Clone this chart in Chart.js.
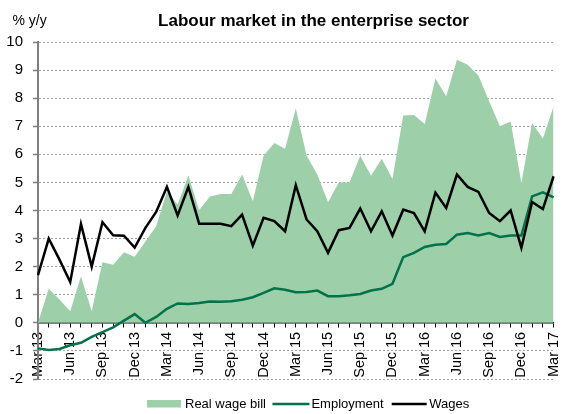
<!DOCTYPE html>
<html>
<head>
<meta charset="utf-8">
<script src="https://cdn.jsdelivr.net/npm/chart.js@4"></script>
<style>
  html, body { margin: 0; padding: 0; background: #ffffff; }
  #c { display: block; }
</style>
</head>
<body>
<canvas id="c" width="576" height="414"></canvas>
<script>
const months = [
  "Mar 13","Apr 13","May 13","Jun 13","Jul 13","Aug 13","Sep 13","Oct 13","Nov 13","Dec 13",
  "Jan 14","Feb 14","Mar 14","Apr 14","May 14","Jun 14","Jul 14","Aug 14","Sep 14","Oct 14","Nov 14","Dec 14",
  "Jan 15","Feb 15","Mar 15","Apr 15","May 15","Jun 15","Jul 15","Aug 15","Sep 15","Oct 15","Nov 15","Dec 15",
  "Jan 16","Feb 16","Mar 16","Apr 16","May 16","Jun 16","Jul 16","Aug 16","Sep 16","Oct 16","Nov 16","Dec 16",
  "Jan 17","Feb 17","Mar 17"
];
const shownTickLabels = [
  "Mar 13","Jun 13","Sep 13","Dec 13","Mar 14","Jun 14","Sep 14","Dec 14",
  "Mar 15","Jun 15","Sep 15","Dec 15","Mar 16","Jun 16","Sep 16","Dec 16","Mar 17"
];
const realWageBill = [
  0.0,1.21,0.83,0.41,1.66,0.41,2.16,2.07,2.51,2.35,2.9,3.44,4.68,4.21,5.25,4.01,4.5,4.59,4.59,5.28,4.33,5.95,
  6.4,6.2,7.63,5.96,5.28,4.29,5.0,5.0,5.95,5.24,5.84,5.12,7.38,7.4,7.08,8.7,8.07,9.37,9.19,8.81,7.89,7.0,7.17,
  4.98,7.12,6.56,7.71
];
const employment = [
  -0.91,-0.97,-0.93,-0.8,-0.71,-0.5,-0.33,-0.16,0.08,0.31,0.0,0.21,0.5,0.69,0.67,0.71,0.76,0.75,0.77,0.82,0.91,
  1.07,1.23,1.18,1.09,1.1,1.15,0.95,0.95,0.98,1.03,1.15,1.21,1.39,2.34,2.49,2.7,2.78,2.81,3.14,3.2,3.11,3.2,
  3.06,3.11,3.11,4.5,4.65,4.47
];
const wages = [
  1.7,3.0,2.25,1.45,3.52,2.0,3.58,3.12,3.1,2.68,3.38,3.95,4.84,3.82,4.84,3.53,3.53,3.53,3.44,3.85,2.75,3.74,
  3.62,3.26,4.9,3.68,3.26,2.49,3.3,3.38,4.07,3.26,3.97,3.11,4.03,3.91,3.26,4.64,4.09,5.28,4.84,4.66,3.91,3.62,
  4.0,2.67,4.3,4.05,5.22
];
const seriesNames = ["Real wage bill", "Employment", "Wages"];
const titleText = "Labour market in the enterprise sector";
const unitText = "% y/y";

const AREA_COLOR = "#9dcfa9";
const EMP_COLOR = "#00734b";
const WAGE_COLOR = "#000000";
const FONT = "'Liberation Sans', Arial, sans-serif";

const decorPlugin = {
  id: "decor",
  afterDraw(chart) {
    const ctx = chart.ctx;
    ctx.save();
    // title
    ctx.fillStyle = "#000";
    ctx.font = "bold 17px " + FONT;
    ctx.textAlign = "center";
    ctx.textBaseline = "alphabetic";
    ctx.fillText(titleText, 313.5, 26);
    // unit label
    ctx.font = "14px " + FONT;
    ctx.textAlign = "left";
    ctx.fillText(unitText, 12.5, 25);
    // legend
    ctx.font = "13px " + FONT;
    ctx.textBaseline = "middle";
    const ly = 404;
    let x = 147;
    ctx.fillStyle = AREA_COLOR;
    ctx.fillRect(x, 400, 34, 7.5);
    x += 34 + 4;
    ctx.fillStyle = "#000";
    ctx.fillText(seriesNames[0], x, ly);
    x += ctx.measureText(seriesNames[0]).width + 6.5;
    ctx.strokeStyle = EMP_COLOR;
    ctx.lineWidth = 2.5;
    ctx.beginPath(); ctx.moveTo(x, ly); ctx.lineTo(x + 37, ly); ctx.stroke();
    x += 37 + 2;
    ctx.fillText(seriesNames[1], x, ly);
    x += ctx.measureText(seriesNames[1]).width + 8;
    ctx.strokeStyle = WAGE_COLOR;
    ctx.beginPath(); ctx.moveTo(x, ly); ctx.lineTo(x + 35, ly); ctx.stroke();
    x += 35 + 2.5;
    ctx.fillText(seriesNames[2], x, ly);
    ctx.restore();
  }
};

new Chart(document.getElementById("c"), {
  type: "line",
  data: {
    labels: months,
    datasets: [
      {
        label: seriesNames[0],
        data: realWageBill,
        backgroundColor: AREA_COLOR,
        borderWidth: 0,
        borderColor: AREA_COLOR,
        fill: "origin",
        pointRadius: 0,
        tension: 0,
        order: 2
      },
      {
        label: seriesNames[1],
        data: employment,
        borderColor: EMP_COLOR,
        borderWidth: 2.5,
        fill: false,
        pointRadius: 0,
        tension: 0,
        order: 1
      },
      {
        label: seriesNames[2],
        data: wages,
        borderColor: WAGE_COLOR,
        borderWidth: 2.5,
        fill: false,
        pointRadius: 0,
        tension: 0,
        order: 0
      }
    ]
  },
  options: {
    responsive: false,
    animation: false,
    devicePixelRatio: 1,
    layout: { padding: { top: 42, right: 4, bottom: 35, left: 0 } },
    plugins: {
      legend: { display: false },
      title: { display: false },
      tooltip: { enabled: false }
    },
    scales: {
      x: {
        type: "category",
        position: { y: 0 },
        offset: false,
        afterFit: (s) => { s.height = 0; },
        grid: {
          drawOnChartArea: false,
          drawTicks: true,
          tickLength: 4,
          tickColor: "#000",
          tickWidth: 1
        },
        border: { display: true, color: "#000", width: 1.5 },
        ticks: {
          autoSkip: false,
          maxRotation: 90,
          minRotation: 90,
          padding: 5,
          color: "#000",
          font: { family: FONT, size: 14.5 },
          callback: function (value) {
            const lab = this.getLabelForValue(value);
            return shownTickLabels.includes(lab) ? lab : "";
          }
        }
      },
      y: {
        min: -2,
        max: 10,
        afterFit: (s) => { s.width = 38; },
        grid: {
          color: "#a0a0a0",
          lineWidth: 1,
          drawTicks: true,
          tickLength: 5,
          tickColor: "#7f7f7f",
          tickWidth: 1.5
        },
        border: { display: true, color: "#7f7f7f", width: 2, dash: [2, 2] },
        ticks: {
          stepSize: 1,
          padding: 10,
          color: "#000",
          font: { family: FONT, size: 15 }
        }
      }
    }
  },
  plugins: [decorPlugin]
});
</script>
</body>
</html>
